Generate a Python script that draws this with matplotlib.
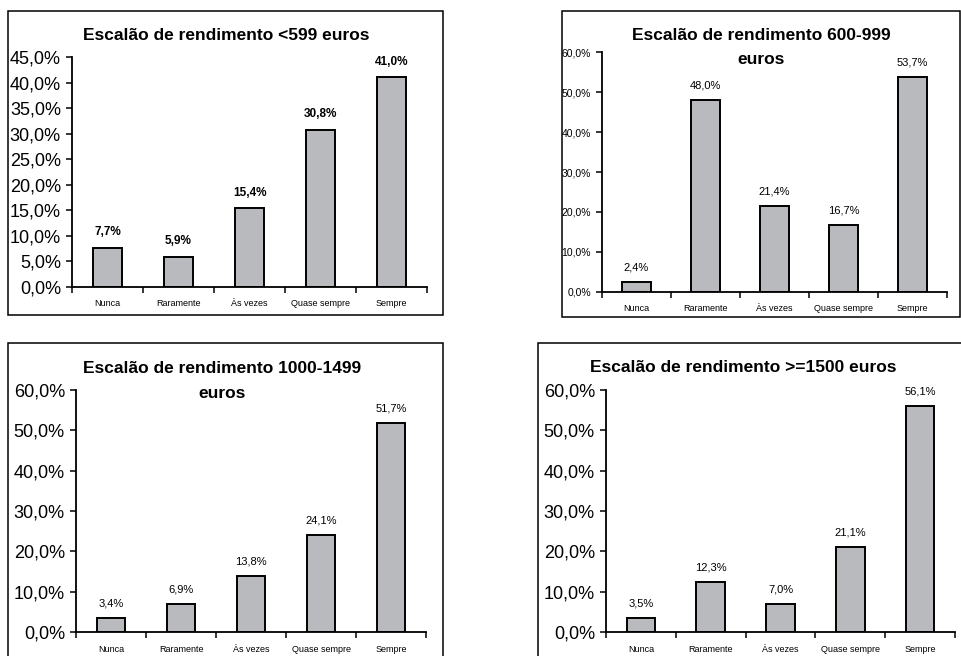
import matplotlib
matplotlib.use("Agg")
import matplotlib.pyplot as plt
from matplotlib.patches import Rectangle
import numpy as np

plt.rcParams['font.family'] = ['Liberation Sans', 'DejaVu Sans']

# Frequência por escalão de rendimento (%)
categorias = ["Nunca", "Raramente", "Às vezes", "Quase sempre", "Sempre"]
ate_599 = [7.7, 5.9, 15.4, 30.8, 41.0]
de_600_999 = [2.4, 48.0, 21.4, 16.7, 53.7]
de_1000_1499 = [3.4, 6.9, 13.8, 24.1, 51.7]
mais_1500 = [3.5, 12.3, 7.0, 21.1, 56.1]

W, H = 961, 656
fig = plt.figure(figsize=(W / 100, H / 100), dpi=100)
fig.patch.set_facecolor("white")


def px_axes(x0, y0, x1, y1):
    # pixel box (top-left origin) -> figure fraction
    return fig.add_axes([x0 / W, (H - y1) / H, (x1 - x0) / W, (y1 - y0) / H])


def frame(x0, y0, x1, y1):
    r = Rectangle((x0 / W, (H - y1) / H), (x1 - x0) / W, (y1 - y0) / H,
                  transform=fig.transFigure, fill=False, edgecolor="black",
                  linewidth=1.1, clip_on=False)
    fig.patches.append(r)


def pct(v):
    return f"{v:.1f}%".replace(".", ",")


def painel(box, valores, ymax, ystep, ysize, lbl_bold, lbl_size):
    ax = px_axes(*box)
    x = np.arange(len(categorias))
    ax.bar(x, valores, width=0.41, color="#b9babe", edgecolor="black", linewidth=1.4)
    for xi, v in zip(x, valores):
        ax.annotate(pct(v), (xi, v), xytext=(0, 7), textcoords="offset points",
                    ha="center", va="bottom", fontsize=lbl_size,
                    fontweight="bold" if lbl_bold else "normal")
    ax.set_xlim(-0.5, len(categorias) - 0.5)
    ax.set_ylim(0, ymax)
    yt = np.arange(0, ymax + 0.01, ystep)
    ax.set_yticks(yt)
    ax.set_yticklabels([pct(v) for v in yt], fontsize=ysize)
    ax.set_xticks(np.arange(len(categorias) + 1) - 0.5)
    ax.set_xticklabels([])
    ax.set_xticks(x, minor=True)
    ax.set_xticklabels(categorias, minor=True, fontsize=6.5)
    ax.tick_params(axis="x", which="major", direction="out", length=4, width=1.1)
    ax.tick_params(axis="x", which="minor", length=0, pad=9)
    ax.tick_params(axis="y", direction="out", length=4, width=1.1, pad=4)
    for s in ("top", "right"):
        ax.spines[s].set_visible(False)
    for s in ("left", "bottom"):
        ax.spines[s].set_linewidth(1.3)
    ax.set_facecolor("none")
    return ax


# molduras dos quatro gráficos
frame(8, 11, 443, 315)
frame(562, 11, 960, 317)
frame(8, 343, 443, 662)
frame(538, 343, 966, 662)

painel((72, 57, 427, 287), ate_599, 45, 5, 13, True, 8.5)
painel((602, 52, 947, 292), de_600_999, 60, 10, 7.5, False, 8)
painel((76, 390, 426, 632), de_1000_1499, 60, 10, 13, False, 8)
painel((606, 390, 955, 632), mais_1500, 60, 10, 13, False, 8)

tkw = dict(ha="center", va="center", fontsize=12.5, fontweight="bold")
fig.text(226 / W, 1 - 35 / H, "Escalão de rendimento <599 euros", **tkw)
fig.text(761 / W, 1 - 35 / H, "Escalão de rendimento 600-999", **tkw)
fig.text(761 / W, 1 - 60 / H, "euros", **tkw)
fig.text(222 / W, 1 - 368 / H, "Escalão de rendimento 1000-1499", **tkw)
fig.text(222 / W, 1 - 393 / H, "euros", **tkw)
fig.text(743 / W, 1 - 367 / H, "Escalão de rendimento >=1500 euros", **tkw)

fig.savefig("out.png", dpi=100)
